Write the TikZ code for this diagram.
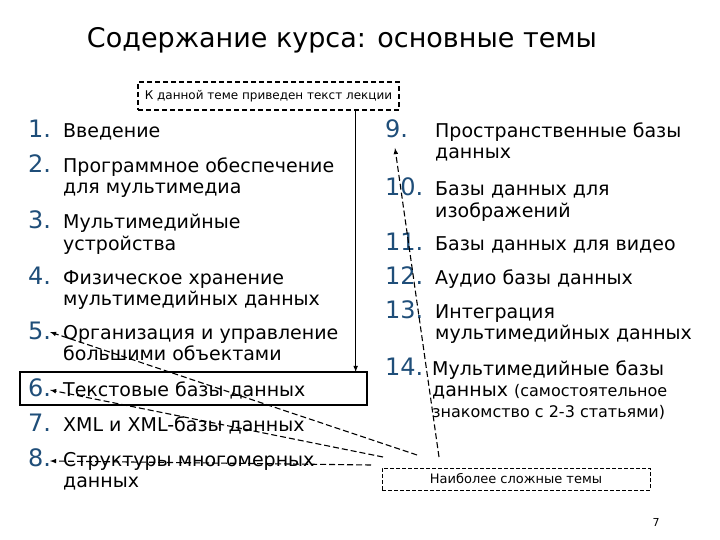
\documentclass[tikz,border=0pt]{standalone}
\usepackage{fontspec}
\setmainfont{DejaVu Sans}
\newcommand{\ml}[1]{\begin{tabular}[t]{@{}l@{}}#1\end{tabular}}
\begin{document}
\begin{tikzpicture}[x=1pt,y=-1pt,
  num/.style={anchor=base west,text=numblue,font=\fontsize{24}{26}\selectfont,inner sep=0},
  itm/.style={anchor=base west,font=\fontsize{19}{21}\selectfont,inner sep=0},
  dbox/.style={draw,dash pattern=on 5pt off 3pt,line width=1.3pt},
  darr/.style={dash pattern=on 6pt off 3pt,line width=1.1pt,-latex}]
\definecolor{numblue}{HTML}{1F4E79}
\useasboundingbox (0,0) rectangle (720,540);
\node[font=\fontsize{27}{30}\selectfont] (title) at (342,40) {Содержание курса: основные темы};
\node[dbox,minimum width=261,minimum height=28,font=\fontsize{12}{14}\selectfont,inner sep=0] (top) at (268.5,96) {К данной теме приведен текст лекции};
% left
\node[num] (n1) at (28,138) {1.}; \node[itm] (t1) at (63,138) {Введение};
\node[num] (n2) at (28,173) {2.}; \node[itm] (t2) at (63,173) {\ml{Программное обеспечение\\для мультимедиа}};
\node[num] (n3) at (28,229) {3.}; \node[itm] (t3) at (63,229) {\ml{Мультимедийные\\устройства}};
\node[num] (n4) at (28,284) {4.}; \node[itm] (t4) at (63,284) {\ml{Физическое хранение\\мультимедийных данных}};
\node[num] (n5) at (28,339) {5.}; \node[itm] (t5) at (63,339) {\ml{Организация и управление\\большими объектами}};
\node[num] (n6) at (28,396) {6.}; \node[itm] (t6) at (63,396) {Текстовые базы данных};
\node[num] (n7) at (28,431) {7.}; \node[itm] (t7) at (63,431) {XML и XML-базы данных};
\node[num] (n8) at (28,466) {8.}; \node[itm] (t8) at (63,466) {\ml{Структуры многомерных\\данных}};
\draw[line width=1.6pt] (20,372) rectangle (367,405);
\coordinate (b6) at (355,372);
% right
\node[num] (n9) at (385,138) {9.}; \node[itm] (t9) at (435,138) {\ml{Пространственные базы\\данных}};
\node[num] (n10) at (385,196) {10.}; \node[itm] (t10) at (435,196) {\ml{Базы данных для\\изображений}};
\node[num] (n11) at (385,250) {11.}; \node[itm] (t11) at (435,250) {Базы данных для видео};
\node[num] (n12) at (385,284) {12.}; \node[itm] (t12) at (435,284) {Аудио базы данных};
\node[num] (n13) at (385,318) {13.}; \node[itm] (t13) at (435,318) {\ml{Интеграция\\мультимедийных данных}};
\node[num] (n14) at (385,375) {14.}; \node[itm] (t14) at (432,375) {\ml{Мультимедийные базы\\данных {\fontsize{16}{19}\selectfont (самостоятельное}\\{\fontsize{16}{19}\selectfont знакомство с 2-3 статьями)}}};
\node[draw,dash pattern=on 4pt off 2pt,minimum width=268,minimum height=22,font=\fontsize{13}{14}\selectfont,inner sep=0] (bot) at (516,479) {Наиболее сложные темы};
\node[font=\fontsize{11}{12}\selectfont] (pg) at (656,522) {7};
% connectors
\draw[line width=1.1pt,-latex] (top.south east) ++(-44,0) coordinate (tp) -- (tp |- b6);
\coordinate (s9) at (439,457); \coordinate (s5) at (417,455); \coordinate (s6) at (383,457); \coordinate (s8) at (371,465);
\draw[darr] (s9) -- (395,148);
\draw[darr] (s5) -- (50,332);
\draw[darr] (s6) -- (50,390);
\draw[darr] (s8) -- (50,461);
\end{tikzpicture}
\end{document}
